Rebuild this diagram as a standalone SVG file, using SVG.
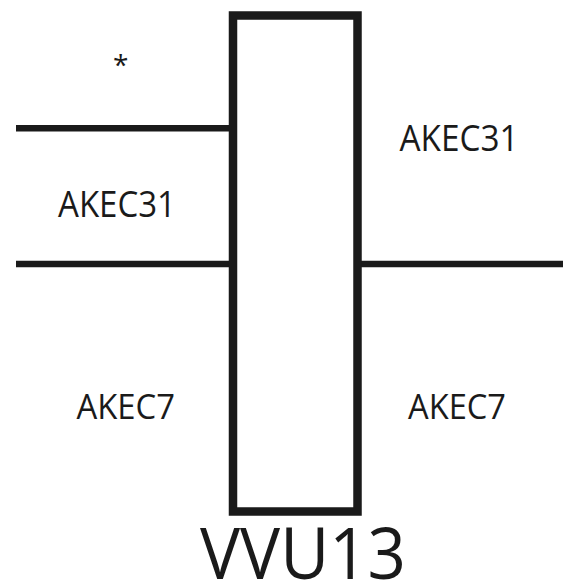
<svg xmlns="http://www.w3.org/2000/svg" width="563" height="583" viewBox="0 0 563 583">
<style>
.ln{stroke:#1a1a1a;stroke-width:6.5;fill:none}
.t{font-family:"Open Sans","Liberation Sans",sans-serif;fill:#1a1a1a}
</style>
<rect width="563" height="583" fill="#fff"/>
<g id="connectors">
<line class="ln" x1="16" y1="128.3" x2="233" y2="128.3"/>
<line class="ln" x1="16" y1="264" x2="233" y2="264"/>
<line class="ln" x1="357" y1="264" x2="563" y2="264"/>
</g>
<g id="node-vvu13">
<rect x="233" y="15.5" width="124.5" height="496" fill="none" stroke="#1a1a1a" stroke-width="8.5"/>
<text class="t" x="200" y="579" font-size="72" textLength="206" lengthAdjust="spacingAndGlyphs">VVU13</text>
</g>
<g id="labels">
<text class="t" x="113" y="75" font-size="28">*</text>
<text class="t" x="58" y="216.7" font-size="36" textLength="118" lengthAdjust="spacingAndGlyphs">AKEC31</text>
<text class="t" x="399.5" y="150.7" font-size="36" textLength="119" lengthAdjust="spacingAndGlyphs">AKEC31</text>
<text class="t" x="76.5" y="419.3" font-size="34" textLength="98.5" lengthAdjust="spacingAndGlyphs">AKEC7</text>
<text class="t" x="408" y="419.3" font-size="34" textLength="98" lengthAdjust="spacingAndGlyphs">AKEC7</text>
</g>
</svg>
